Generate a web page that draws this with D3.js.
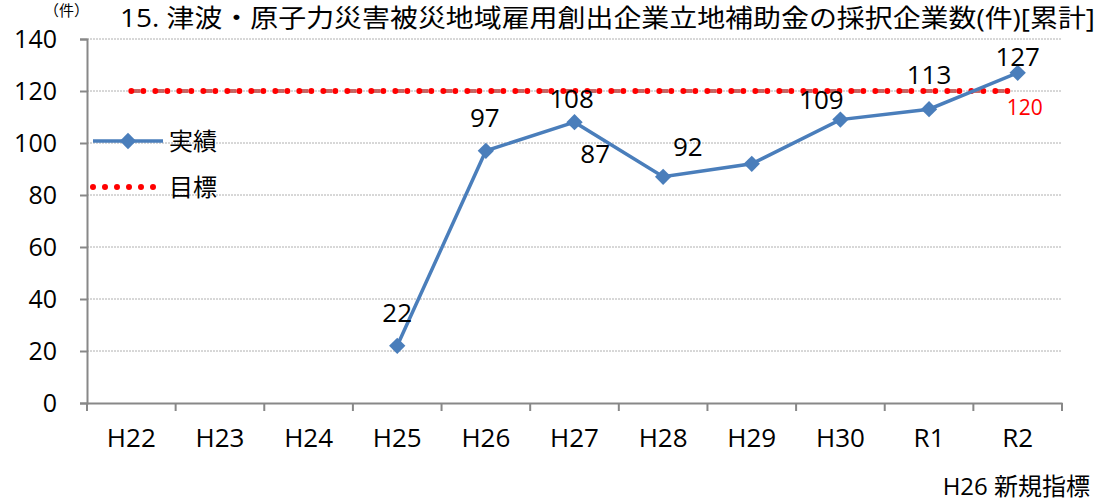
<!DOCTYPE html>
<html>
<head>
<meta charset="utf-8">
<script src="https://cdn.jsdelivr.net/npm/d3@7"></script>
<style>
body { margin: 0; background: #fff; }
text { font-family: "Open Sans", "Noto Sans CJK JP", sans-serif; }
</style>
</head>
<body>
<div id="chart"></div>
<script>
var categories = ["H22", "H23", "H24", "H25", "H26", "H27", "H28", "H29", "H30", "R1", "R2"];
var actual = [null, null, null, 22, 97, 108, 87, 92, 109, 113, 127];
var target = [120, 120, 120, 120, 120, 120, 120, 120, 120, 120, 120];
var yTicks = [0, 20, 40, 60, 80, 100, 120, 140];
// label offsets (px) relative to each point, as placed in the picture
var labelOffsets = [null, null, null, [0, -24], [-1, -24], [-3, -14], [-68, -14], [-64, -8], [-19, -11], [0, -25], [0, -7]];

var W = 1099, H = 503;
var margin = { top: 39, right: 37, bottom: 100, left: 87 };
var width = W - margin.left - margin.right,
    height = H - margin.top - margin.bottom;

var svg = d3.select("#chart").append("svg")
    .attr("width", W).attr("height", H);

var g = svg.append("g")
    .attr("transform", "translate(" + margin.left + "," + margin.top + ")");

var x = d3.scaleBand().domain(categories).range([0, width]).padding(0);
var y = d3.scaleLinear().domain([0, 140]).range([height, 0]);
var cx = function (c) { return x(c) + x.bandwidth() / 2; };

// grid
g.selectAll(".grid").data(yTicks.filter(function (d) { return d > 0; }))
    .enter().append("line")
    .attr("x1", 0).attr("x2", width)
    .attr("y1", function (d) { return y(d); })
    .attr("y2", function (d) { return y(d); })
    .attr("stroke", "#b0b0b0").attr("stroke-width", 1)
    .attr("stroke-dasharray", "2,1");

// y axis
var yAxis = g.append("g")
    .call(d3.axisLeft(y).tickValues(yTicks).tickSize(7).tickPadding(23));
yAxis.attr("font-family", null).attr("font-size", null);
yAxis.select(".domain").attr("stroke", "#888").attr("stroke-width", 2);
yAxis.selectAll(".tick line").attr("stroke", "#888").attr("stroke-width", 2);
yAxis.selectAll(".tick text").attr("font-size", 25).attr("fill", "#000");

// x axis
var xAxis = g.append("g").attr("transform", "translate(0," + height + ")")
    .call(d3.axisBottom(x).tickSize(0).tickPadding(26));
xAxis.attr("font-family", null).attr("font-size", null);
xAxis.select(".domain").attr("stroke", "#888").attr("stroke-width", 2);
xAxis.selectAll(".tick text").attr("font-size", 26).attr("fill", "#000");
g.selectAll(".xtick").data(categories.concat(["end"]))
    .enter().append("line")
    .attr("x1", function (d, i) { return x.step() * i; })
    .attr("x2", function (d, i) { return x.step() * i; })
    .attr("y1", height).attr("y2", height + 8)
    .attr("stroke", "#888").attr("stroke-width", 2);

// target line
var line = d3.line()
    .defined(function (d) { return d.v != null; })
    .x(function (d) { return cx(d.c); })
    .y(function (d) { return y(d.v); });

var tData = categories.map(function (c, i) { return { c: c, v: target[i] }; });
g.append("path").datum(tData)
    .attr("d", line)
    .attr("fill", "none")
    .attr("stroke", "#c0504d").attr("stroke-width", 4).attr("stroke-opacity", 0.85)
    .attr("stroke-dasharray", "9,15");
g.append("path").datum(tData)
    .attr("d", line)
    .attr("fill", "none")
    .attr("stroke", "#ff0000").attr("stroke-width", 6)
    .attr("stroke-linecap", "round")
    .attr("stroke-dasharray", "0,12");

// actual line
var aData = categories.map(function (c, i) { return { c: c, v: actual[i] }; });
g.append("path").datum(aData)
    .attr("d", line)
    .attr("fill", "none")
    .attr("stroke", "#4a7ebb").attr("stroke-width", 3.5);

var diamond = d3.symbol().type(d3.symbolDiamond2).size(170);
g.selectAll(".pt").data(aData.filter(function (d) { return d.v != null; }))
    .enter().append("path")
    .attr("d", diamond)
    .attr("transform", function (d) { return "translate(" + cx(d.c) + "," + y(d.v) + ")"; })
    .attr("fill", "#4a7ebb");

// data labels
g.selectAll(".lbl").data(aData.map(function (d, i) { return { c: d.c, v: d.v, o: labelOffsets[i] }; })
        .filter(function (d) { return d.v != null; }))
    .enter().append("text")
    .attr("x", function (d) { return cx(d.c) + d.o[0]; })
    .attr("y", function (d) { return y(d.v) + d.o[1]; })
    .attr("text-anchor", "middle")
    .attr("font-size", 26).attr("fill", "#000")
    .text(function (d) { return d.v; });

g.append("text")
    .attr("x", cx(categories[categories.length - 1]) + 7)
    .attr("y", y(target[target.length - 1]) + 24)
    .attr("text-anchor", "middle")
    .attr("font-size", 21).attr("fill", "#ff0000")
    .text(target[target.length - 1]);

// legend
var lg = svg.append("g");
lg.append("line").attr("x1", 93).attr("x2", 163).attr("y1", 141).attr("y2", 141)
    .attr("stroke", "#4a7ebb").attr("stroke-width", 3.5);
lg.append("path").attr("d", diamond).attr("transform", "translate(128,141)").attr("fill", "#4a7ebb");
lg.append("text").attr("x", 169).attr("y", 150).attr("font-size", 24)
    .attr("font-family", "Noto Sans CJK JP").text("実績");
lg.append("line").attr("x1", 93).attr("x2", 163).attr("y1", 187).attr("y2", 187)
    .attr("stroke", "#ff0000").attr("stroke-width", 6)
    .attr("stroke-linecap", "round").attr("stroke-dasharray", "0,12");
lg.append("text").attr("x", 169).attr("y", 196).attr("font-size", 24)
    .attr("font-family", "Noto Sans CJK JP").text("目標");

// titles
svg.append("text").attr("x", 44).attr("y", 16).attr("font-size", 15)
    .attr("font-family", "Noto Sans CJK JP").text("（件）");
svg.append("text").attr("x", 120).attr("y", 27).attr("font-size", 25)
    .attr("font-family", "Noto Sans CJK JP")
    .attr("textLength", 975).attr("lengthAdjust", "spacingAndGlyphs")
    .text("15. 津波・原子力災害被災地域雇用創出企業立地補助金の採択企業数(件)[累計]");
svg.append("text").attr("x", 1090).attr("y", 495).attr("font-size", 24)
    .attr("text-anchor", "end")
    .attr("font-family", "Liberation Serif, serif").text("H26 新規指標");
</script>
</body>
</html>
